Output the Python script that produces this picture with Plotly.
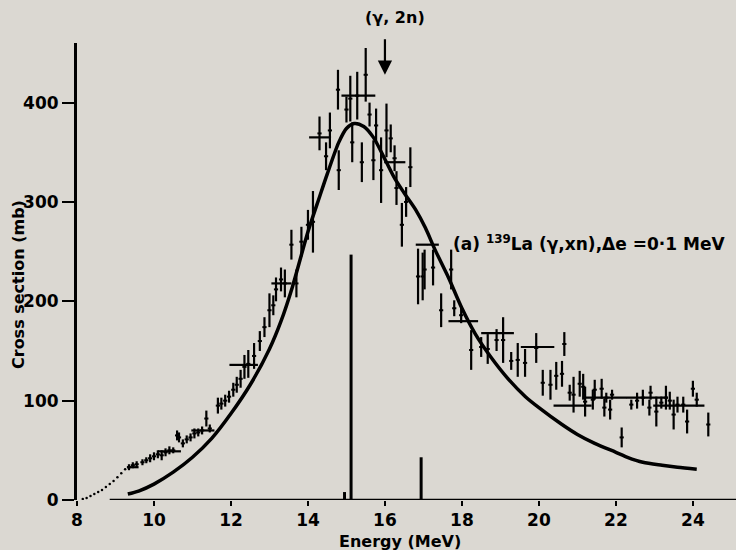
import plotly.graph_objects as go

# ---------------- data ----------------
# measured points: energy (MeV), cross section (mb), half error (mb)
pt_E = [9.35, 9.45, 9.55, 9.7, 9.8, 9.9, 10.0, 10.1, 10.2, 10.3, 10.4, 10.5, 10.6, 10.65,
        10.75, 10.85, 10.95, 11.05, 11.15, 11.25, 11.36, 11.45, 11.66, 11.75, 11.85, 11.95,
        12.06, 12.15, 12.25, 12.35, 12.45, 12.6, 12.75, 12.87, 13.0, 13.1, 13.17, 13.3, 13.4,
        13.57, 13.7, 13.83, 14.0, 14.13, 14.3, 14.47, 14.57, 14.78, 14.8, 15.0, 15.1, 15.15,
        15.28, 15.4, 15.5, 15.6, 15.7, 15.77, 15.9, 16.04, 16.15, 16.25, 16.3, 16.44, 16.55,
        16.66, 16.86, 16.98, 17.03, 17.25, 17.46, 17.72, 17.8, 17.98, 18.24, 18.5, 18.67,
        18.9, 19.07, 19.28, 19.45, 19.64, 19.93, 20.1, 20.3, 20.45, 20.6, 20.66, 20.8, 20.9,
        21.06, 21.15, 21.2, 21.4, 21.45, 21.63, 21.7, 21.75, 21.85, 21.9, 22.15, 22.4, 22.55,
        22.7, 22.87, 22.9, 23.05, 23.18, 23.3, 23.4, 23.5, 23.6, 23.75, 23.85, 24.0, 24.1, 24.4]
pt_sigma = [33, 35, 36, 38, 40, 42, 44, 46, 45, 48, 50, 50, 65, 63,
            57, 61, 63, 67, 68, 70, 82, 72, 95, 97, 100, 104,
            111, 116, 122, 134, 137, 145, 160, 174, 191, 196, 212, 222, 218,
            257, 218, 260, 277, 280, 369, 346, 372, 413, 332, 393, 404, 360,
            407, 340, 428, 388, 342, 377, 332, 372, 364, 344, 314, 277, 300,
            335, 225, 225, 232, 234, 191, 232, 193, 186, 151, 154, 152,
            161, 161, 140, 141, 138, 153, 118, 116, 125, 127, 157, 108, 106,
            117, 114, 99, 101, 111, 112, 93, 103, 91, 106, 63, 96, 100,
            103, 93, 108, 89, 98, 103, 100, 86, 96, 96, 79, 112, 101, 76]
pt_err = [3, 3, 3, 3, 3, 4, 4, 4, 5, 4, 4, 3, 5, 5,
          4, 4, 4, 5, 4, 4, 8, 4, 8, 6, 6, 6,
          7, 8, 9, 12, 14, 13, 10, 10, 17, 10, 12, 12, 14,
          15, 14, 15, 15, 31, 17, 14, 18, 20, 20, 13, 23, 20,
          24, 20, 27, 12, 20, 17, 33, 27, 14, 13, 17, 22, 15,
          20, 28, 24, 20, 18, 17, 20, 8, 8, 20, 10, 15,
          11, 23, 9, 17, 14, 15, 13, 15, 14, 13, 12, 8, 18,
          13, 13, 15, 10, 10, 10, 9, 5, 10, 5, 10, 5, 8,
          8, 8, 7, 15, 6, 12, 9, 15, 8, 8, 12, 8, 7, 12]

# horizontal bars (energy bins): low edge, high edge, cross section
bin_lo = [9.3, 10.1, 10.97, 11.96, 13.05, 14.03, 14.87, 15.98, 16.8, 17.65, 18.5, 19.53, 20.38, 21.2, 22.97]
bin_hi = [9.6, 10.7, 11.57, 12.7, 13.57, 14.6, 15.75, 16.53, 17.4, 18.42, 19.35, 20.4, 21.37, 23.35, 24.3]
bin_val = [33, 49, 70, 136, 218, 365, 407, 340, 257, 180, 168, 154, 95, 103, 95]

# smooth fitted curve
fit_E = [9.32, 9.6, 10.0, 10.5, 11.0, 11.5, 12.0, 12.5, 13.0, 13.3, 13.6, 14.0, 14.3, 14.5,
         14.8, 15.0, 15.2, 15.45, 15.7, 16.0, 16.25, 16.5, 16.8, 17.05, 17.3, 17.65, 18.0,
         18.35, 18.75, 19.2, 19.65, 20.0, 20.6, 21.0, 21.45, 22.0, 22.3, 22.7, 23.2, 23.6, 24.1]
fit_sigma = [6, 9, 16, 28, 43, 62, 87, 116, 152, 180, 215, 270, 305, 328,
             360, 374, 379, 376, 365, 343, 324, 309, 292, 274, 252, 224, 193,
             167, 144, 122, 104, 93, 76, 66, 57, 48, 43, 38, 35, 33, 31]

# dotted threshold extrapolation
dot_E = [8.15, 8.25, 8.35, 8.45, 8.55, 8.65, 8.75, 8.85, 8.95, 9.05, 9.15, 9.25]
dot_sigma = [1, 2, 4, 6, 8, 10, 13, 16, 19, 23, 27, 31]

# vertical lines (level markers): energy, height
vl_E = [14.95, 15.12, 16.94]
vl_h = [8, 247, 43]

x_ticks = [8, 10, 12, 14, 16, 18, 20, 22, 24]
y_ticks = [0, 100, 200, 300, 400]

# ---------------- figure ----------------
BG = "#dbd8d2"
FONT = "DejaVu Sans"
fig = go.Figure()

# vertical level lines
vx, vy = [], []
for e, h in zip(vl_E, vl_h):
    vx += [e, e, None]
    vy += [0, h, None]
fig.add_trace(go.Scatter(x=vx, y=vy, mode="lines", line=dict(color="black", width=3),
                         hoverinfo="skip", showlegend=False))

# dotted extrapolation
fig.add_trace(go.Scatter(x=dot_E, y=dot_sigma, mode="markers",
                         marker=dict(color="black", size=2.5), showlegend=False))

# data points with error bars
fig.add_trace(go.Scatter(x=pt_E, y=pt_sigma, mode="markers",
                         marker=dict(color="black", size=3, symbol="line-ew",
                                     line=dict(color="black", width=2)),
                         error_y=dict(type="data", array=pt_err, thickness=2.2, width=0, color="black"),
                         showlegend=False))

# energy bins
bin_c = [(a + b) / 2 for a, b in zip(bin_lo, bin_hi)]
bin_w = [(b - a) / 2 for a, b in zip(bin_lo, bin_hi)]
fig.add_trace(go.Scatter(x=bin_c, y=bin_val, mode="markers",
                         marker=dict(color="black", size=1),
                         error_x=dict(type="data", array=bin_w, thickness=2.2, width=0, color="black"),
                         showlegend=False))

# fitted curve
fig.add_trace(go.Scatter(x=fit_E, y=fit_sigma, mode="lines",
                         line=dict(color="black", width=3.5, shape="spline", smoothing=0.8),
                         showlegend=False))

# x axis baseline (starts right of the y axis as in the original)
fig.add_shape(type="line", xref="x", yref="y", x0=8.85, x1=25.12, y0=0, y1=0,
              line=dict(color="black", width=2.5))
# short extension of the y axis below zero
fig.add_shape(type="line", xref="paper", yref="y", x0=0, x1=0, y0=-10, y1=0,
              line=dict(color="black", width=3))

L = 77
fig.update_layout(
    width=736, height=550,
    margin=dict(l=L, r=0, t=43, b=50),
    paper_bgcolor=BG, plot_bgcolor=BG,
    font=dict(family=FONT, color="black"),
    xaxis=dict(range=[8.0, 25.12], tickvals=x_ticks, ticks="outside", ticklen=5, tickwidth=2,
               tickcolor="black", showline=False, showgrid=False, zeroline=False,
               tickfont=dict(size=17, family=FONT, weight="bold"), fixedrange=True),
    yaxis=dict(range=[0, 460], tickvals=y_ticks, ticks="outside", ticklen=12, tickwidth=2,
               tickcolor="black", showline=True, linecolor="black", linewidth=3,
               showgrid=False, zeroline=False,
               tickfont=dict(size=17, family=FONT, weight="bold"), fixedrange=True),
)

W = 736 - L
# axis titles
fig.add_annotation(text="Energy (MeV)", xref="paper", yref="paper",
                   x=(400 - L) / W, y=(500 - 541) / 457, xanchor="center", yanchor="middle",
                   showarrow=False, font=dict(size=16, family=FONT, weight="bold"))
fig.add_annotation(text="Cross section (mb)", xref="paper", yref="paper",
                   x=(18 - L) / W, y=(500 - 285) / 457, xanchor="center", yanchor="middle",
                   textangle=-90, showarrow=False, font=dict(size=16, family=FONT, weight="bold"))

# reaction label
fig.add_annotation(text="(a) <sup>139</sup>La (γ,xn),Δe =0·1 MeV", xref="x", yref="y",
                   x=17.72, y=259, xanchor="left", yanchor="middle", showarrow=False,
                   font=dict(size=17, family=FONT, weight="bold"))

# (γ,2n) threshold arrow
fig.add_annotation(text="(γ, 2n)", xref="paper", yref="paper",
                   x=(395 - L) / W, y=(500 - 18) / 457, xanchor="center", yanchor="middle",
                   showarrow=False, font=dict(size=16, family=FONT, weight="bold"))
fig.add_annotation(text="", xref="x", yref="y", x=16.0, y=428, ax=0, ay=-37,
                   showarrow=True, arrowhead=2, arrowsize=1.3, arrowwidth=2.2, arrowcolor="black")

fig.write_html("out.html", config={"displayModeBar": False},
               post_script="document.body.style.margin='0';document.body.style.background='%s';" % BG)
